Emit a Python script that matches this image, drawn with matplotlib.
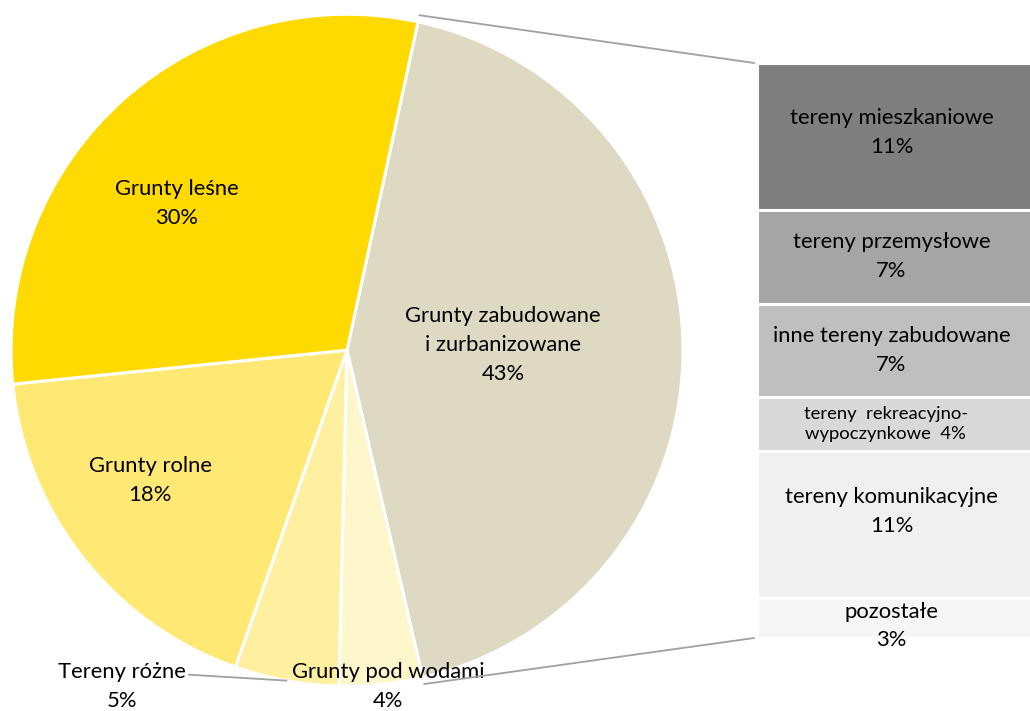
import matplotlib
matplotlib.use("Agg")
import numpy as np
import matplotlib.pyplot as plt
from matplotlib.patches import ConnectionPatch

plt.rcParams['font.family'] = ['Lato', 'DejaVu Sans']

# struktura gruntow (%)
pie_labels = ["Grunty zabudowane\ni zurbanizowane", "Grunty pod wodami", "Tereny różne",
              "Grunty rolne", "Grunty leśne"]
pie_values = [43, 4, 5, 18, 30]
pie_colors = ["#DDD9C3", "#FFF7CC", "#FFEFA0", "#FFE873", "#FFDA00"]

# rozbicie gruntow zabudowanych (od gory)
bar_labels = ["tereny mieszkaniowe", "tereny przemysłowe", "inne tereny zabudowane",
              "tereny  rekreacyjno-\nwypoczynkowe", "tereny komunikacyjne", "pozostałe"]
bar_values = [11, 7, 7, 4, 11, 3]
bar_colors = ["#7F7F7F", "#A5A5A5", "#BFBFBF", "#D9D9D9", "#F0F0F0", "#F6F6F6"]

fig = plt.figure(figsize=(10.3, 7.11), dpi=100)

# --- kolo ---
ax_pie = fig.add_axes([0.0107, 0.035, 0.6524, 0.945])
wedges, _ = ax_pie.pie(pie_values, colors=pie_colors, startangle=77.8, counterclock=False,
                       radius=1.0, wedgeprops=dict(edgecolor="white", linewidth=2.2))
ax_pie.set_xlim(-1, 1)
ax_pie.set_ylim(-1, 1)
ax_pie.set_aspect("equal")
ax_pie.axis("off")

fs = 15.8
ls = 1.55
pie_pos = [(0.464, 0.015), (0.122, -1.0), (-0.67, -1.0), (-0.586, -0.387), (-0.506, 0.4375)]
for lab, val, (x, y) in zip(pie_labels, pie_values, pie_pos):
    ax_pie.text(x, y, f"{lab}\n{val}%", ha="center", va="center", fontsize=fs,
                linespacing=ls, clip_on=False, zorder=5)

# linia odniesienia dla "Tereny różne"
w = wedges[2]
mid = np.deg2rad((w.theta1 + w.theta2) / 2)
ax_pie.plot([-0.47, np.cos(mid)], [-0.966, np.sin(mid)], color="#A0A0A0", lw=1.3,
            clip_on=False, zorder=4)

# --- slupek ---
ax_bar = fig.add_axes([757 / 1030, 73 / 711, 280 / 1030, 575 / 711])
total = sum(bar_values)
top = total
for lab, val, col in zip(bar_labels, bar_values, bar_colors):
    ax_bar.bar(0, val, bottom=top - val, width=1, color=col, edgecolor="white", linewidth=2.2)
    top -= val
ax_bar.set_xlim(-0.5, 0.5)
ax_bar.set_ylim(0, total)
ax_bar.axis("off")

bar_text_dy = [0.3, 0.0, 0.0, 0.0, 0.95, -0.6]
top = total
for i, (lab, val) in enumerate(zip(bar_labels, bar_values)):
    yc = top - val / 2 + bar_text_dy[i]
    if i == 3:
        txt = f"{lab}  {val}%"
        size = 13.3
        x = -0.04
        lsp = 1.35
    else:
        txt = f"{lab}\n{val}%"
        size = fs
        x = -0.02
        lsp = ls
    ax_bar.text(x, yc, txt, ha="center", va="center", fontsize=size, linespacing=lsp,
                clip_on=False)
    top -= val

# linie laczace kolo ze slupkiem
z = wedges[0]
for ang, yb in [(z.theta2, total), (z.theta1, 0)]:
    a = np.deg2rad(ang)
    con = ConnectionPatch(xyA=(1.02 * np.cos(a), 1.02 * np.sin(a)), coordsA=ax_pie.transData,
                          xyB=(-0.51, yb), coordsB=ax_bar.transData,
                          color="#A0A0A0", lw=1.3)
    fig.add_artist(con)

fig.savefig("out.png", dpi=100, facecolor="white")
